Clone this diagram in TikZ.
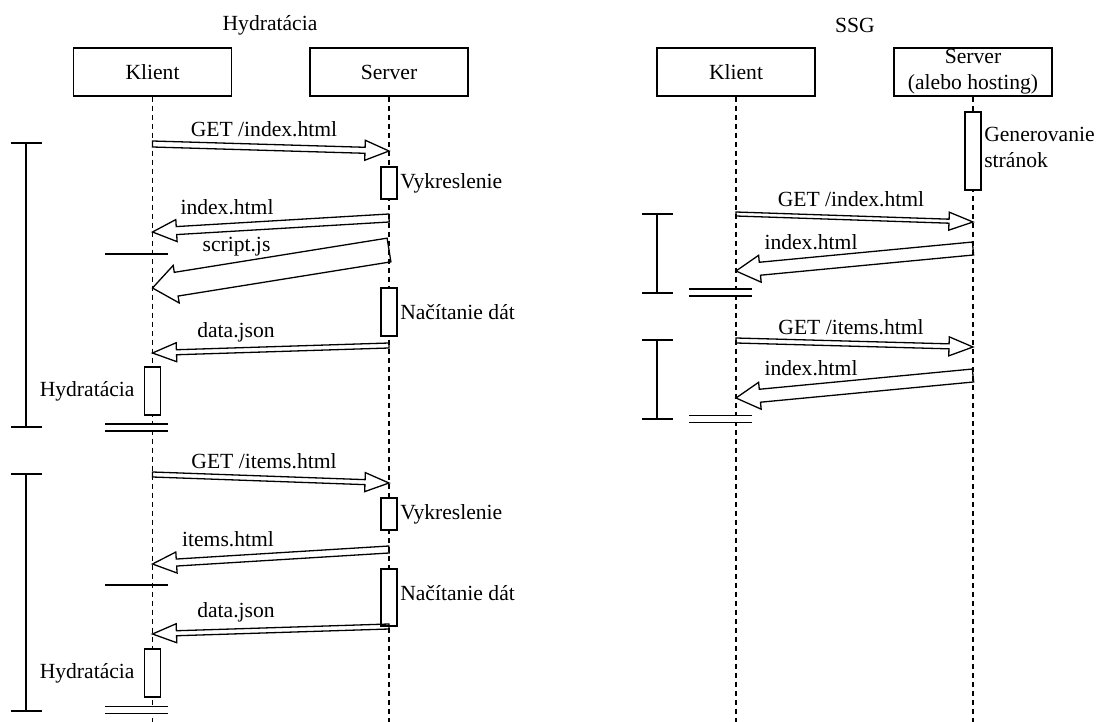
\documentclass[tikz,border=0pt]{standalone}
\usepackage{fontspec}
\setmainfont{Liberation Serif}
\usetikzlibrary{calc,positioning}

% hollow message arrow: start, end, half width of the shaft
\newcommand{\msg}[3]{%
  \coordinate (ms) at (#1);
  \coordinate (me) at (#2);
  \coordinate (mh) at ($(me)!12pt!(ms)$);
  \pgfmathsetlengthmacro{\headw}{#3+3.5pt}
  \draw[msgarrow] ($(ms)!#3!90:(me)$) -- ($(mh)!#3!90:(me)$) -- ($(mh)!\headw!90:(me)$) -- (me)
    -- ($(mh)!\headw!-90:(me)$) -- ($(mh)!#3!-90:(me)$) -- ($(ms)!#3!-90:(me)$) -- cycle;
}

\begin{document}
\begin{tikzpicture}[x=0.5pt, y=-0.5pt, line width=0.65pt,
  font=\fontsize{10.8pt}{13pt}\selectfont,
  actor/.style={draw, minimum width=79pt, minimum height=24pt, inner sep=0pt, align=center},
  life/.style={dash pattern=on 2.5pt off 2pt, line width=0.75pt},
  act/.style={draw, fill=white, minimum width=8pt, inner sep=0pt},
  msgarrow/.style={line join=miter},
  sync/.style={double distance=2.8pt}]
  \useasboundingbox (0,0) rectangle (1098,722);

  % Hydratacia
  \node (hydr) at (270,25) {Hydratácia};
  \node[actor] (kl1) at (152.5,72) {Klient};
  \node[actor] (sv1) at (389,72) {Server};
  % SSG
  \node (ssg) at (855,25) {SSG};
  \node[actor] (kl2) at (736,72) {Klient};
  \node[actor] (sv2) at (973,72) {Server\\(alebo hosting)};

  \foreach \l in {kl1, sv1, kl2, sv2} {
    \draw[life] (\l.south) -- (\l.south |- 0,722);
  }

  % activations
  \node[act, minimum height=16pt] (vyk1) at (389,183) {};
  \node[right=0pt of vyk1, inner sep=1pt] (lvyk1) {Vykreslenie};
  \node[act, minimum height=24pt] (nac1) at (389,312) {};
  \node[right=0pt of nac1, inner sep=1pt] (lnac1) {Načítanie dát};
  \node[act, minimum height=24pt] (hyd1) at (152.5,391) {};
  \node[left=1pt of hyd1] (lhyd1) {Hydratácia};
  \node[act, minimum height=16pt] (vyk2) at (389,514) {};
  \node[right=0pt of vyk2, inner sep=1pt] (lvyk2) {Vykreslenie};
  \node[act, minimum height=28.5pt] (nac2) at (389,597.5) {};
  \node[right=0pt of nac2, inner sep=1pt, yshift=2pt] (lnac2) {Načítanie dát};
  \node[act, minimum height=24pt] (hyd2) at (152.5,673) {};
  \node[left=1pt of hyd2] (lhyd2) {Hydratácia};
  \node[act, minimum height=39pt] (gen) at (973,151) {};
  \node[right=0pt of gen, inner sep=1pt, align=left, yshift=2pt] (lgen) {Generovanie\\stránok};

  % messages
  \msg{kl1 |- 0,144}{sv1 |- 0,151}{1.5pt}
  \node (m1) at (264,129) {GET /index.html};
  \msg{sv1 |- 0,218}{kl1 |- 0,232}{2pt}
  \node (m2) at (227,207) {index.html};
  \msg{sv1 |- 0,250}{kl1 |- 0,288}{6pt}
  \node (m3) at (236.5,247) {script.js};
  \msg{sv1 |- 0,345.5}{kl1 |- 0,353}{1.25pt}
  \node (m4) at (236,332) {data.json};
  \msg{kl1 |- 0,474.5}{sv1 |- 0,483}{1.25pt}
  \node (m5) at (264,461) {GET /items.html};
  \msg{sv1 |- 0,549.5}{kl1 |- 0,564}{1.75pt}
  \node (m6) at (228,539) {items.html};
  \msg{sv1 |- 0,626.5}{kl1 |- 0,634}{1.25pt}
  \node (m7) at (236,612) {data.json};

  \msg{kl2 |- 0,214}{sv2 |- 0,222}{1pt}
  \node (m8) at (851,199) {GET /index.html};
  \msg{sv2 |- 0,248.5}{kl2 |- 0,271}{3.25pt}
  \node (m9) at (811,242) {index.html};
  \msg{kl2 |- 0,340.5}{sv2 |- 0,347}{1.25pt}
  \node (m10) at (851,327) {GET /items.html};
  \msg{sv2 |- 0,375.5}{kl2 |- 0,398}{3.25pt}
  \node (m11) at (811,368) {index.html};

  % phases
  \foreach \x/\ya/\yb in {26/143/427, 26/474/711, 657/214/293, 657/340/419} {
    \draw (\x-15,\ya) -- (\x+16,\ya) (\x,\ya) -- (\x,\yb) (\x-15,\yb) -- (\x+16,\yb);
  }
  \foreach \x/\y in {105/427.5, 105/710, 689/292.5, 689/419} {
    \draw[sync] (\x,\y) -- (\x+63,\y);
  }
  \draw (105,254) -- (168,254);
  \draw (105,585) -- (168,585);
\end{tikzpicture}
\end{document}
